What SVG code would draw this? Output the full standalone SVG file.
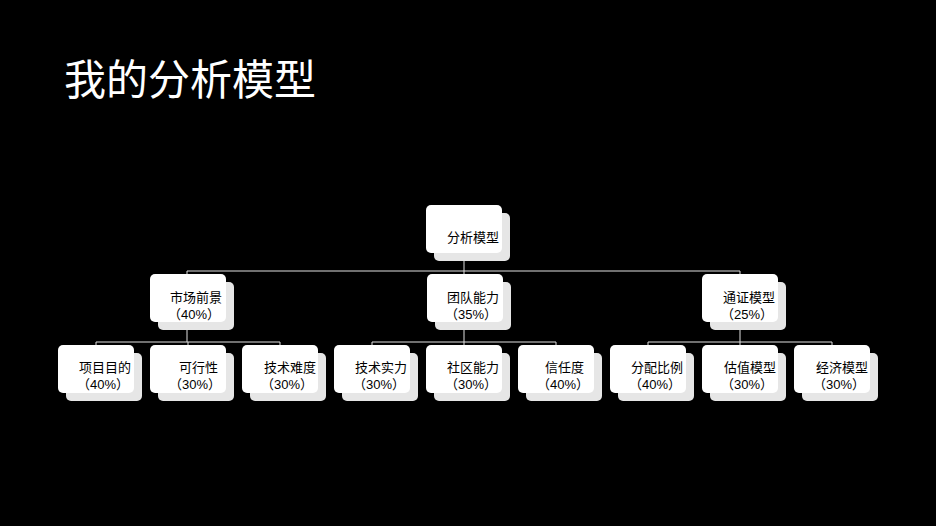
<svg xmlns="http://www.w3.org/2000/svg" width="936" height="526" viewBox="0 0 936 526">
<style>
.sh{fill:#e6e6e6}
.fr{fill:#fff}
.t{font-family:"Liberation Sans","Noto Sans CJK SC",sans-serif;font-size:13px;fill:#000;text-anchor:end}
.c{stroke:#e0e0e0;stroke-width:1;fill:none}
</style>
<rect width="936" height="526" fill="#000"/>
<text x="64" y="95" font-family="'Liberation Sans','Noto Sans CJK SC',sans-serif" font-size="42" fill="#fff">我的分析模型</text>
<g id="connectors">
<path class="c" d="M464 253V271M187 271H740M187 271V275M464 271V275M740 271V275"/>
<path class="c" d="M187 322V342M96 342H280M96 342V346M188 342V346M280 342V346"/>
<path class="c" d="M464 322V342M372 342H556M372 342V346M464 342V346M556 342V346"/>
<path class="c" d="M740 322V342M648 342H832M648 342V346M740 342V346M832 342V346"/>
</g>
<g id="root"><rect class="sh" x="434" y="213" width="76" height="48" rx="5"/><rect class="fr" x="426" y="205" width="76" height="48" rx="5"/><text class="t" x="499" y="242">分析模型</text></g>
<g id="n1"><rect class="sh" x="158" y="282" width="76" height="48" rx="5"/><rect class="fr" x="150" y="274" width="76" height="48" rx="5"/><text class="t" x="222" y="302">市场前景</text><text class="t" x="220" y="319">（40%）</text></g>
<g id="n2"><rect class="sh" x="435" y="282" width="76" height="48" rx="5"/><rect class="fr" x="427" y="274" width="76" height="48" rx="5"/><text class="t" x="499" y="302">团队能力</text><text class="t" x="497" y="319">（35%）</text></g>
<g id="n3"><rect class="sh" x="710" y="282" width="76" height="48" rx="5"/><rect class="fr" x="702" y="274" width="76" height="48" rx="5"/><text class="t" x="775" y="302">通证模型</text><text class="t" x="773" y="319">（25%）</text></g>
<g id="n11"><rect class="sh" x="66" y="353" width="76" height="48" rx="5"/><rect class="fr" x="58" y="345" width="76" height="48" rx="5"/><text class="t" x="131" y="372">项目目的</text><text class="t" x="129" y="389">（40%）</text></g>
<g id="n12"><rect class="sh" x="158" y="353" width="76" height="48" rx="5"/><rect class="fr" x="150" y="345" width="76" height="48" rx="5"/><text class="t" x="218" y="372">可行性</text><text class="t" x="221" y="389">（30%）</text></g>
<g id="n13"><rect class="sh" x="250" y="353" width="76" height="48" rx="5"/><rect class="fr" x="242" y="345" width="76" height="48" rx="5"/><text class="t" x="316" y="372">技术难度</text><text class="t" x="313" y="389">（30%）</text></g>
<g id="n21"><rect class="sh" x="342" y="353" width="76" height="48" rx="5"/><rect class="fr" x="334" y="345" width="76" height="48" rx="5"/><text class="t" x="407" y="372">技术实力</text><text class="t" x="405" y="389">（30%）</text></g>
<g id="n22"><rect class="sh" x="434" y="353" width="76" height="48" rx="5"/><rect class="fr" x="426" y="345" width="76" height="48" rx="5"/><text class="t" x="499" y="372">社区能力</text><text class="t" x="497" y="389">（30%）</text></g>
<g id="n23"><rect class="sh" x="526" y="353" width="76" height="48" rx="5"/><rect class="fr" x="518" y="345" width="76" height="48" rx="5"/><text class="t" x="584" y="372">信任度</text><text class="t" x="589" y="389">（40%）</text></g>
<g id="n31"><rect class="sh" x="618" y="353" width="76" height="48" rx="5"/><rect class="fr" x="610" y="345" width="76" height="48" rx="5"/><text class="t" x="683" y="372">分配比例</text><text class="t" x="681" y="389">（40%）</text></g>
<g id="n32"><rect class="sh" x="710" y="353" width="76" height="48" rx="5"/><rect class="fr" x="702" y="345" width="76" height="48" rx="5"/><text class="t" x="776" y="372">估值模型</text><text class="t" x="773" y="389">（30%）</text></g>
<g id="n33"><rect class="sh" x="802" y="353" width="76" height="48" rx="5"/><rect class="fr" x="794" y="345" width="76" height="48" rx="5"/><text class="t" x="868" y="372">经济模型</text><text class="t" x="865" y="389">（30%）</text></g>
</svg>
